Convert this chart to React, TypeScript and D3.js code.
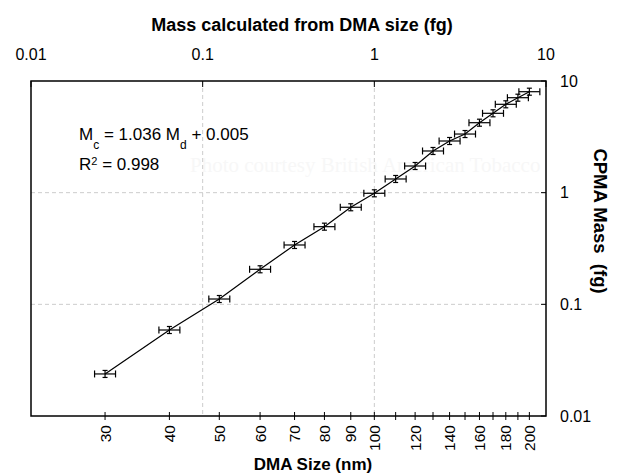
import React from "react";
import * as d3 from "d3";

// DMA mobility sizes (nm) of the classified particles
const sizes = [30, 40, 50, 60, 70, 80, 90, 100, 110, 120, 130, 140, 150, 160, 170, 180, 190, 200];
// CPMA measured mass (fg)
const cpmaMass = [0.0238, 0.0589, 0.1116, 0.206, 0.34, 0.496, 0.74, 0.987, 1.326, 1.733, 2.362, 2.902, 3.35, 4.232, 5.137, 6.184, 7.087, 8.02];
// relative uncertainty (multiplicative) of each axis
const dmaMassErr = 1.151;
const cpmaMassErr = 1.075;

const sizeTicks = [30, 40, 50, 60, 70, 80, 90, 100, 110, 120, 130, 140, 150, 160, 170, 180, 190, 200];
const sizeTickLabels = [30, 40, 50, 60, 70, 80, 90, 100, 120, 140, 160, 180, 200];
const massTicks = [0.01, 0.1, 1, 10];
const massTickLabels = ["0.01", "0.1", "1", "10"];
const gridMass = [0.1, 1];

const SANS = "'Liberation Sans', Arial, Helvetica, sans-serif";
const SERIF = "'Liberation Serif', 'Times New Roman', serif";

// mass (fg) of a particle of mobility diameter d (nm), 100 nm -> 1 fg
const massFromSize = (d: number) => Math.pow(d / 100, 3);

export default function App() {
  const L = 31, R = 546, T = 81, B = 416;
  const x = d3.scaleLog().domain([0.01, 10]).range([L, R]);
  const y = d3.scaleLog().domain([0.01, 10]).range([B, T]);

  const pts = sizes.map((d, i) => ({ d, mx: massFromSize(d), my: cpmaMass[i] }));
  const line = d3
    .line<{ mx: number; my: number }>()
    .x((p) => x(p.mx))
    .y((p) => y(p.my));

  const stroke = "#000";
  return (
    <svg
      width={620}
      height={474}
      style={{ position: "absolute", left: 0, top: 0, display: "block", background: "#fff" }}
    >
      <rect x={0} y={0} width={620} height={474} fill="#fff" />
      {/* watermark */}
      <text x={190} y={172} fontFamily={SERIF} fontSize={21} fill="#f7f7f7">
        Photo courtesy British American Tobacco
      </text>

      {/* grid */}
      {gridMass.map((m) => (
        <line key={"gv" + m} x1={x(m)} x2={x(m)} y1={T} y2={B} stroke="#cccccc" strokeDasharray="4,3" strokeWidth={1} />
      ))}
      {gridMass.map((m) => (
        <line key={"gh" + m} x1={L} x2={R} y1={y(m)} y2={y(m)} stroke="#cccccc" strokeDasharray="4,3" strokeWidth={1} />
      ))}

      {/* frame */}
      <rect x={L} y={T} width={R - L} height={B - T} fill="none" stroke={stroke} strokeWidth={1.5} />

      {/* top axis ticks & labels */}
      {massTicks.map((m, i) => (
        <g key={"tt" + m}>
          <line x1={x(m)} x2={x(m)} y1={T} y2={T + 6} stroke={stroke} strokeWidth={1} />
          <text x={x(m)} y={60} textAnchor="middle" fontFamily={SANS} fontSize={16} fill="#000">
            {massTickLabels[i]}
          </text>
        </g>
      ))}
      <text x={302} y={31} textAnchor="middle" fontFamily={SANS} fontSize={18} fontWeight="bold" fill="#000">
        Mass calculated from DMA size (fg)
      </text>

      {/* right axis ticks & labels */}
      {massTicks.map((m, i) => (
        <g key={"rt" + m}>
          <line x1={R - 5} x2={R} y1={y(m)} y2={y(m)} stroke={stroke} strokeWidth={1} />
          <text x={560} y={y(m)} dy="0.36em" fontFamily={SANS} fontSize={16} fill="#000">
            {massTickLabels[i]}
          </text>
        </g>
      ))}
      <text
        transform={`translate(601,221) rotate(90)`}
        textAnchor="middle"
        dy="0.36em"
        fontFamily={SANS}
        fontSize={18.5}
        fontWeight="bold"
        fill="#000"
        style={{ whiteSpace: "pre" }}
      >
        {"CPMA Mass  (fg)"}
      </text>

      {/* bottom axis ticks & labels */}
      {sizeTicks.map((d) => (
        <line key={"bt" + d} x1={x(massFromSize(d))} x2={x(massFromSize(d))} y1={B - 4} y2={B + 4} stroke={stroke} strokeWidth={1} />
      ))}
      {sizeTickLabels.map((d) => (
        <text
          key={"bl" + d}
          transform={`translate(${x(massFromSize(d))},425) rotate(-90)`}
          textAnchor="end"
          dy="0.36em"
          fontFamily={SANS}
          fontSize={15.5}
          fill="#000"
        >
          {d}
        </text>
      ))}
      <text x={313} y={470} textAnchor="middle" fontFamily={SANS} fontSize={17} fontWeight="bold" fill="#000">
        DMA Size (nm)
      </text>

      {/* fit line */}
      <path d={line(pts) || ""} fill="none" stroke={stroke} strokeWidth={1.2} />

      {/* error bars */}
      {pts.map((p) => {
        const cx = x(p.mx), cy = y(p.my);
        const x0 = x(p.mx / dmaMassErr), x1 = x(p.mx * dmaMassErr);
        const y0 = y(p.my / cpmaMassErr), y1 = y(p.my * cpmaMassErr);
        return (
          <g key={"e" + p.d} stroke={stroke} strokeWidth={1.2} fill="none">
            <line x1={x0} x2={x1} y1={cy} y2={cy} />
            <line x1={x0} x2={x0} y1={cy - 3.5} y2={cy + 3.5} />
            <line x1={x1} x2={x1} y1={cy - 3.5} y2={cy + 3.5} />
            <line x1={cx} x2={cx} y1={y0} y2={y1} />
            <line x1={cx - 2.5} x2={cx + 2.5} y1={y0} y2={y0} />
            <line x1={cx - 2.5} x2={cx + 2.5} y1={y1} y2={y1} />
          </g>
        );
      })}

      {/* equation */}
      <text x={79} y={140} fontFamily={SANS} fontSize={17} fill="#000">
        M<tspan fontSize={12} dy={9}>c</tspan>
        <tspan dy={-9}> = 1.036 M</tspan>
        <tspan fontSize={12} dy={9}>d</tspan>
        <tspan dy={-9}> + 0.005</tspan>
      </text>
      <text x={79} y={170} fontFamily={SANS} fontSize={17} fill="#000">
        R<tspan fontSize={11} dy={-5}>2</tspan>
        <tspan dy={5}> = 0.998</tspan>
      </text>
    </svg>
  );
}
